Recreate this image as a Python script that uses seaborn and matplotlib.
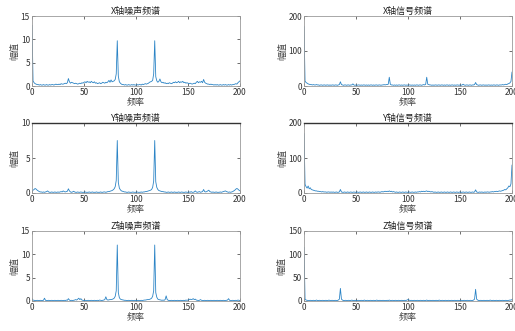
import numpy as np
import pandas as pd
import matplotlib
matplotlib.use('Agg')
import matplotlib.pyplot as plt
import seaborn as sns

# frequency axis, 1 Hz bins
freq = list(range(0, 201))

x_noise = [
    13.0, 1.1, 0.7, 0.5, 0.4, 0.3, 0.3, 0.2, 0.3, 0.2,
    0.2, 0.3, 0.2, 0.2, 0.3, 0.2, 0.2, 0.3, 0.2, 0.3,
    0.3, 0.2, 0.3, 0.4, 0.3, 0.3, 0.4, 0.3, 0.5, 0.4,
    0.4, 0.5, 0.6, 0.5, 0.7, 1.6, 0.9, 0.6, 0.8, 0.7,
    0.6, 0.5, 0.6, 0.5, 0.4, 0.5, 0.6, 0.5, 0.7, 0.6,
    0.8, 0.9, 0.7, 1.0, 0.8, 0.9, 0.7, 1.0, 0.8, 0.7,
    0.9, 0.6, 0.7, 0.5, 0.6, 0.7, 0.5, 0.6, 0.8, 0.7,
    0.6, 0.8, 0.7, 0.9, 1.2, 0.8, 1.3, 0.9, 1.0, 1.1,
    1.4, 2.6, 9.7, 2.1, 0.9, 0.6, 0.4, 0.3, 0.3, 0.2,
    0.3, 0.2, 0.2, 0.3, 0.2, 0.2, 0.3, 0.2, 0.3, 0.2,
    0.2, 0.3, 0.2, 0.3, 0.3, 0.2, 0.4, 0.3, 0.4, 0.5,
    0.4, 0.5, 0.6, 0.8, 0.9, 1.0, 1.2, 2.6, 9.7, 2.0,
    1.1, 0.8, 1.0, 1.5, 0.9, 0.7, 0.8, 0.6, 0.7, 0.5,
    0.6, 0.5, 0.7, 0.6, 0.5, 0.6, 0.8, 0.7, 0.9, 0.7,
    0.8, 1.0, 0.7, 0.9, 0.8, 1.0, 0.7, 0.8, 0.6, 0.7,
    0.6, 0.5, 0.6, 0.5, 0.4, 0.5, 0.6, 0.5, 0.8, 1.0,
    0.7, 0.9, 0.8, 1.0, 0.7, 1.4, 0.8, 0.6, 0.5, 0.4,
    0.4, 0.3, 0.4, 0.3, 0.3, 0.2, 0.3, 0.2, 0.3, 0.2,
    0.2, 0.3, 0.2, 0.2, 0.3, 0.2, 0.3, 0.2, 0.2, 0.3,
    0.2, 0.3, 0.2, 0.3, 0.3, 0.4, 0.5, 0.4, 0.7, 0.9,
    1.1,
]

x_signal = [
    170, 14, 10, 8, 6, 5, 4, 4, 3, 4,
    3, 3, 4, 3, 3, 2, 3, 3, 2, 3,
    3, 2, 3, 3, 2, 3, 2, 3, 3, 2,
    3, 3, 2, 3, 4, 12, 4, 3, 2, 3,
    3, 2, 3, 3, 2, 3, 3, 6, 3, 2,
    3, 2, 3, 3, 2, 3, 2, 3, 3, 2,
    3, 2, 3, 2, 3, 3, 2, 3, 2, 3,
    3, 2, 3, 3, 2, 3, 3, 4, 3, 4,
    4, 5, 25, 5, 3, 3, 2, 3, 2, 3,
    2, 3, 3, 2, 3, 2, 3, 3, 2, 3,
    2, 3, 3, 2, 3, 2, 3, 2, 3, 3,
    2, 3, 3, 2, 3, 4, 3, 5, 25, 5,
    4, 3, 3, 2, 3, 2, 3, 3, 2, 3,
    3, 2, 3, 3, 2, 3, 2, 3, 3, 2,
    3, 2, 3, 3, 2, 3, 2, 3, 3, 2,
    3, 2, 3, 5, 3, 2, 3, 3, 2, 3,
    3, 2, 3, 3, 4, 10, 4, 3, 2, 3,
    3, 2, 3, 3, 2, 3, 2, 3, 3, 2,
    3, 2, 3, 3, 2, 3, 3, 2, 3, 3,
    3, 4, 3, 4, 5, 4, 6, 7, 9, 13,
    40,
]

y_noise = [
    0.3, 0.4, 0.5, 0.65, 0.55, 0.4, 0.3, 0.2, 0.15, 0.15,
    0.1, 0.15, 0.1, 0.15, 0.2, 0.3, 0.15, 0.1, 0.1, 0.15,
    0.1, 0.1, 0.15, 0.1, 0.1, 0.15, 0.1, 0.15, 0.2, 0.15,
    0.3, 0.2, 0.15, 0.2, 0.25, 0.6, 0.3, 0.15, 0.1, 0.15,
    0.25, 0.15, 0.1, 0.1, 0.15, 0.1, 0.1, 0.15, 0.1, 0.1,
    0.1, 0.15, 0.1, 0.1, 0.1, 0.15, 0.1, 0.1, 0.15, 0.1,
    0.1, 0.1, 0.15, 0.1, 0.1, 0.1, 0.15, 0.1, 0.1, 0.15,
    0.15, 0.1, 0.15, 0.2, 0.2, 0.25, 0.3, 0.35, 0.45, 0.6,
    0.9, 1.8, 7.5, 1.5, 0.7, 0.45, 0.3, 0.25, 0.2, 0.15,
    0.15, 0.1, 0.1, 0.15, 0.1, 0.1, 0.1, 0.15, 0.1, 0.1,
    0.1, 0.15, 0.1, 0.1, 0.1, 0.15, 0.1, 0.15, 0.15, 0.2,
    0.2, 0.25, 0.3, 0.35, 0.4, 0.5, 0.8, 1.7, 7.5, 1.6,
    0.8, 0.5, 0.35, 0.3, 0.25, 0.2, 0.2, 0.15, 0.15, 0.1,
    0.1, 0.15, 0.1, 0.1, 0.15, 0.1, 0.1, 0.15, 0.1, 0.1,
    0.1, 0.15, 0.1, 0.1, 0.15, 0.1, 0.1, 0.1, 0.15, 0.1,
    0.1, 0.15, 0.1, 0.2, 0.1, 0.1, 0.15, 0.3, 0.15, 0.1,
    0.15, 0.2, 0.1, 0.15, 0.2, 0.5, 0.2, 0.15, 0.2, 0.3,
    0.4, 0.2, 0.15, 0.1, 0.15, 0.1, 0.1, 0.15, 0.1, 0.1,
    0.1, 0.15, 0.1, 0.15, 0.2, 0.25, 0.3, 0.2, 0.15, 0.1,
    0.15, 0.1, 0.15, 0.2, 0.3, 0.4, 0.55, 0.65, 0.55, 0.4,
    0.3,
]

y_signal = [
    170, 25, 18, 14, 20, 12, 15, 10, 9, 8,
    7, 6, 6, 5, 5, 4, 4, 3, 4, 3,
    3, 3, 2, 3, 3, 2, 3, 2, 3, 2,
    2, 3, 2, 2, 3, 10, 3, 2, 2, 3,
    2, 2, 3, 2, 2, 3, 2, 2, 3, 2,
    2, 3, 2, 2, 3, 2, 2, 3, 2, 2,
    3, 2, 2, 3, 2, 2, 3, 2, 2, 3,
    2, 3, 3, 2, 3, 4, 3, 4, 5, 4,
    5, 4, 6, 4, 5, 3, 4, 3, 2, 3,
    2, 2, 3, 2, 2, 3, 2, 2, 3, 2,
    2, 3, 2, 2, 3, 2, 2, 3, 2, 3,
    3, 4, 3, 5, 4, 5, 4, 5, 6, 4,
    5, 4, 3, 4, 3, 2, 3, 2, 2, 3,
    2, 2, 3, 2, 2, 3, 2, 2, 3, 2,
    2, 3, 2, 2, 3, 2, 2, 3, 2, 2,
    3, 2, 2, 3, 2, 2, 3, 2, 2, 3,
    2, 2, 3, 2, 3, 9, 3, 2, 2, 3,
    2, 3, 2, 2, 3, 2, 3, 3, 2, 3,
    3, 4, 3, 4, 4, 5, 4, 5, 6, 5,
    6, 7, 8, 10, 9, 12, 15, 20, 18, 26,
    80,
]

z_noise = [
    0.3, 0.2, 0.15, 0.1, 0.1, 0.15, 0.1, 0.1, 0.15, 0.1,
    0.1, 0.15, 0.6, 0.15, 0.1, 0.1, 0.15, 0.1, 0.1, 0.15,
    0.1, 0.1, 0.15, 0.1, 0.1, 0.15, 0.1, 0.1, 0.15, 0.1,
    0.1, 0.15, 0.1, 0.2, 0.15, 0.5, 0.2, 0.1, 0.15, 0.1,
    0.15, 0.2, 0.3, 0.2, 0.4, 0.6, 0.3, 0.5, 0.2, 0.15,
    0.1, 0.15, 0.1, 0.1, 0.15, 0.1, 0.1, 0.15, 0.1, 0.1,
    0.15, 0.1, 0.1, 0.15, 0.1, 0.2, 0.15, 0.1, 0.15, 0.2,
    0.3, 0.9, 0.3, 0.2, 0.25, 0.3, 0.3, 0.35, 0.45, 0.6,
    1.0, 2.2, 12.0, 1.8, 0.7, 0.4, 0.3, 0.25, 0.2, 0.15,
    0.15, 0.1, 0.1, 0.15, 0.1, 0.1, 0.15, 0.1, 0.1, 0.15,
    0.1, 0.1, 0.15, 0.1, 0.1, 0.15, 0.1, 0.15, 0.2, 0.2,
    0.25, 0.3, 0.3, 0.35, 0.45, 0.6, 1.0, 2.2, 12.0, 1.8,
    0.8, 0.4, 0.3, 0.25, 0.2, 0.15, 0.2, 0.15, 0.3, 1.1,
    0.3, 0.15, 0.1, 0.1, 0.15, 0.1, 0.1, 0.15, 0.1, 0.1,
    0.15, 0.1, 0.1, 0.15, 0.1, 0.1, 0.15, 0.1, 0.2, 0.15,
    0.2, 0.3, 0.4, 0.3, 0.35, 0.5, 0.3, 0.4, 0.2, 0.15,
    0.1, 0.15, 0.3, 0.15, 0.1, 0.1, 0.15, 0.1, 0.1, 0.15,
    0.1, 0.1, 0.15, 0.1, 0.1, 0.15, 0.1, 0.1, 0.15, 0.1,
    0.1, 0.15, 0.1, 0.1, 0.15, 0.1, 0.1, 0.15, 0.2, 0.5,
    0.15, 0.1, 0.1, 0.15, 0.1, 0.1, 0.15, 0.1, 0.2, 0.15,
    0.1,
]

z_signal = [
    115, 4, 2, 1.5, 1, 1, 1.5, 1, 1, 1.5,
    1, 1, 2, 1, 1, 1.5, 1, 1, 1.5, 1,
    1, 1.5, 1, 1, 2, 1, 1, 1.5, 1, 1,
    1.5, 1, 1, 2, 4, 27, 4, 2, 1, 1,
    1.5, 1, 1, 1.5, 1, 1, 2, 1, 1, 1.5,
    1, 1, 1.5, 1, 1, 1.5, 1, 1, 2, 1,
    1, 1.5, 1, 1, 1.5, 1, 1, 1.5, 1, 1,
    2, 1, 1, 1.5, 1, 1, 1.5, 1, 1, 1,
    1.5, 1, 2, 1, 1, 1.5, 1, 1, 1.5, 1,
    1, 1.5, 1, 1, 1.5, 1, 1, 1.5, 1, 2,
    3, 2, 1, 1.5, 1, 1, 1.5, 1, 1, 1.5,
    1, 1, 1.5, 1, 1, 1.5, 1, 1, 2, 1,
    1, 1.5, 1, 1, 1.5, 1, 1, 1.5, 1, 1,
    2, 1, 1, 1.5, 1, 1, 1.5, 1, 1, 1.5,
    1, 1, 1.5, 1, 1, 1.5, 1, 1, 1.5, 1,
    1, 1.5, 1, 1, 1.5, 1, 1, 1.5, 1, 1,
    1.5, 1, 1, 2, 4, 25, 4, 2, 1, 1,
    1.5, 1, 1, 1.5, 1, 1, 1.5, 1, 1, 2,
    1, 1, 1.5, 1, 1, 1.5, 1, 1, 1.5, 1,
    1, 1.5, 1, 1, 1.5, 1, 1, 1.5, 2, 2,
    3,
]

titles = ['X轴噪声频谱', 'X轴信号频谱',
          'Y轴噪声频谱', 'Y轴信号频谱',
          'Z轴噪声频谱', 'Z轴信号频谱']
series = [x_noise, x_signal, y_noise, y_signal, z_noise, z_signal]
y_limits = [15, 200, 10, 200, 15, 150]
y_ticks = [[0, 5, 10, 15], [0, 100, 200],
           [0, 5, 10], [0, 100, 200],
           [0, 5, 10, 15], [0, 50, 100, 150]]
x_ticks = [0, 50, 100, 150, 200]

sns.set_style('white')
plt.rcParams['font.family'] = ['Noto Sans CJK SC', 'DejaVu Sans']
plt.rcParams['axes.unicode_minus'] = False

W, H = 515, 331
fig = plt.figure(figsize=(W / 100, H / 100), dpi=100)

col_left = [32, 304]
row_top = [16, 123, 231]
ax_w, ax_h = 208, 70

line_color = '#2b84c6'
frame_color = '#9a9a9a'

for i, (vals, title) in enumerate(zip(series, titles)):
    assert len(vals) == len(freq)
    r, c = divmod(i, 2)
    left = col_left[c] / W
    bottom = 1 - (row_top[r] + ax_h) / H
    ax = fig.add_axes([left, bottom, ax_w / W, ax_h / H])
    df = pd.DataFrame({'freq': freq, 'amp': vals})
    sns.lineplot(data=df, x='freq', y='amp', ax=ax, color=line_color,
                 linewidth=0.6, estimator=None)
    ax.set_xlim(0, 200)
    ax.set_ylim(0, y_limits[i])
    ax.set_xticks(x_ticks)
    ax.set_yticks(y_ticks[i])
    ax.set_title(title, fontsize=6.5, pad=1.5, color='#222222')
    ax.set_xlabel('频率', fontsize=6.5, labelpad=0.5, color='#444444')
    ax.set_ylabel('幅值', fontsize=6.5, labelpad=1, color='#444444')
    ax.tick_params(axis='both', which='both', direction='in', length=2,
                   width=0.5, labelsize=6, pad=1.5, colors='#333333',
                   top=True, right=True, bottom=True, left=True)
    for sp in ax.spines.values():
        sp.set_visible(True)
        sp.set_color(frame_color)
        sp.set_linewidth(0.6)
    if r == 1:
        ax.spines['top'].set_color('#333333')
        ax.spines['top'].set_linewidth(1.0)

fig.savefig('out.png', dpi=100)
